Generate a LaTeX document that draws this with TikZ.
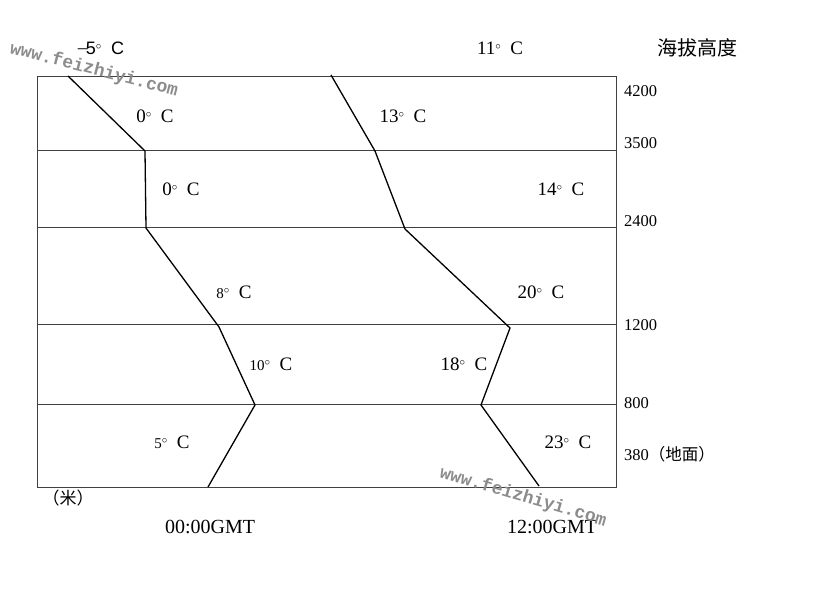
\documentclass[tikz,border=0pt]{standalone}
\usepackage{fontspec}
\setmainfont{Liberation Serif}
\newfontfamily\cjk{Noto Sans CJK SC}
\newfontfamily\wmfont{Liberation Mono}
\newfontfamily\lsans{Liberation Sans}
\newcommand{\dg}{{\fontsize{11}{11}\selectfont\raisebox{5pt}{$\circ$}}}
\begin{document}
\begin{tikzpicture}[x=1pt,y=-1pt,
  lbl/.style={inner sep=0pt,font=\fontsize{19}{21}\selectfont},
  alt/.style={inner sep=0pt,anchor=west,font=\fontsize{16.5}{18}\selectfont},
  grid/.style={draw=black!75,line width=0.9pt},
  prof/.style={draw=black,line width=1.3pt,line join=miter},
  wm/.style={inner sep=0pt,text=black!45,font=\wmfont\bfseries\fontsize{18}{20}\selectfont}]
\useasboundingbox (0,0) rectangle (815,600);
% frame
\coordinate (tl) at (37,76);
\coordinate (br) at (616,487);
\draw[grid] (tl) rectangle (br);
\foreach \y/\n in {150/a,227/b,324/c,404/d}{
  \coordinate (L\n) at (37,\y);
  \coordinate (R\n) at (616,\y);
  \draw[grid] (L\n) -- (R\n);
}
% 00:00 profile
\coordinate (p0) at (68,76);
\coordinate (p1) at (145,151);
\coordinate (p2) at (146,228);
\coordinate (p3) at (219,327);
\coordinate (p4) at (255,405);
\coordinate (p5) at (208,487);
\draw[prof] (p0) -- (p1) -- (p2) -- (p3) -- (p4) -- (p5);
% 12:00 profile
\coordinate (q0) at (331,75);
\coordinate (q1) at (375,151);
\coordinate (q2) at (405,229);
\coordinate (q3) at (510,328);
\coordinate (q4) at (481,405);
\coordinate (q5) at (539,486);
\draw[prof] (q0) -- (q1) -- (q2) -- (q3) -- (q4) -- (q5);
% temperature labels
\node[lbl,font=\lsans\fontsize{18}{20}\selectfont] (t1) at (100,48) {{\cjk\fontsize{14}{14}\selectfont －}\kern-4pt 5\dg\ \ C};
\node[lbl] (t2) at (500,48) {11\dg\ \ C};
\node[lbl] (t3) at (155,116) {0\dg\ \ C};
\node[lbl] (t4) at (403,116) {13\dg\ \ C};
\node[lbl] (t5) at (181,189) {0\dg\ \ C};
\node[lbl] (t6) at (561,189) {14\dg\ \ C};
\node[lbl] (t7) at (234,292) {{\fontsize{15}{15}\selectfont 8}\dg\ \ C};
\node[lbl] (t8) at (541,292) {20\dg\ \ C};
\node[lbl] (t9) at (271,364) {{\fontsize{15}{15}\selectfont 10}\dg\ \ C};
\node[lbl] (t10) at (464,364) {18\dg\ \ C};
\node[lbl] (t11) at (172,442) {{\fontsize{15}{15}\selectfont 5}\dg\ \ C};
\node[lbl] (t12) at (568,442) {23\dg\ \ C};
% altitude labels
\node[lbl,font=\cjk\fontsize{20}{22}\selectfont] (h) at (697,48) {海拔高度};
\node[alt] (a1) at (624,91) {4200};
\node[alt] (a2) at (624,143) {3500};
\node[alt] (a3) at (624,221) {2400};
\node[alt] (a4) at (624,325) {1200};
\node[alt] (a5) at (624,403) {800};
\node[alt] (a6) at (624,454) {380{\cjk（地面）}};
\node[lbl,font=\cjk\fontsize{17}{19}\selectfont] (unit) at (68,498) {（米）};
\node[lbl,font=\fontsize{20}{22}\selectfont] (g1) at (210,527) {00:00GMT};
\node[lbl,font=\fontsize{20}{22}\selectfont] (g2) at (552,527) {12:00GMT};
% watermarks
\node[wm,rotate=-14.5] (w1) at (94,70) {www.feizhiyi.com};
\node[wm,rotate=-16.5] (w2) at (523,497) {www.feizhiyi.com};
\end{tikzpicture}
\end{document}
